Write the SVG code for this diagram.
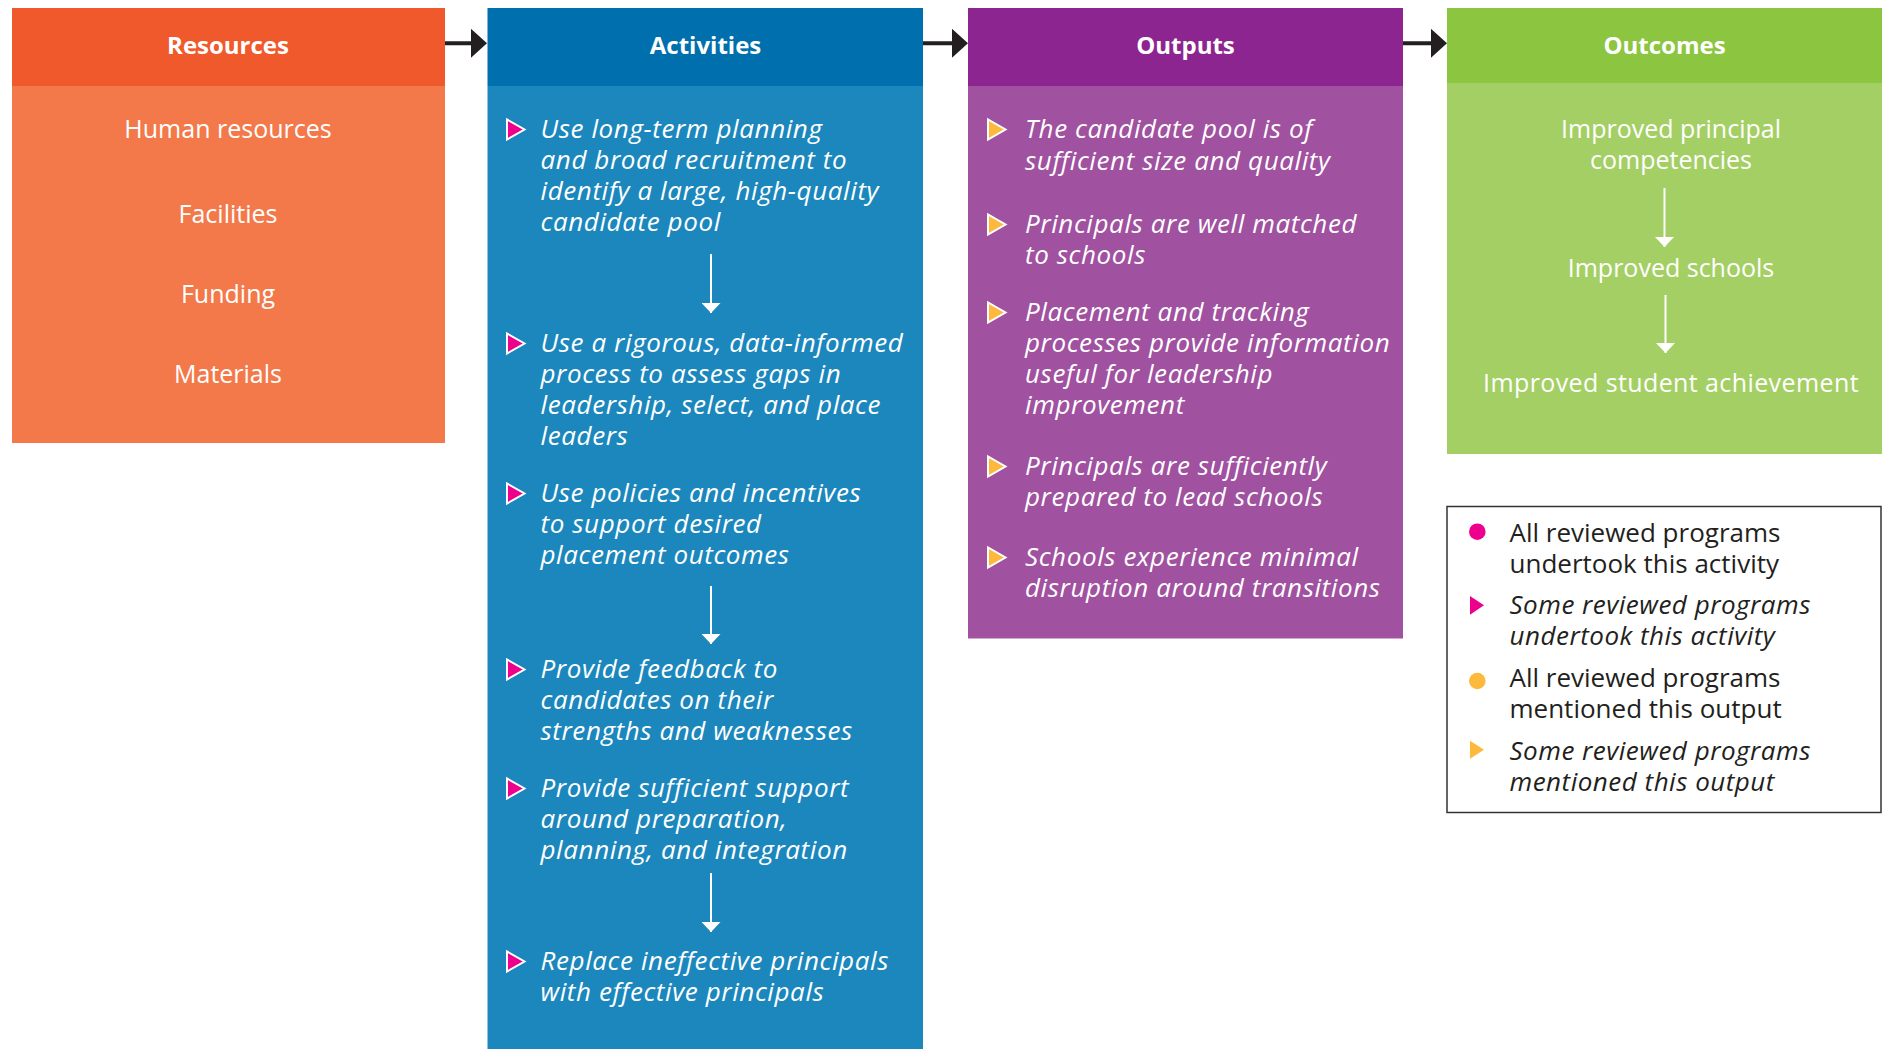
<svg xmlns="http://www.w3.org/2000/svg" xmlns:xlink="http://www.w3.org/1999/xlink" width="1887" height="1049" viewBox="0 0 1887 1049">
<style>
  .hd { font-family: "Open Sans", "Noto Sans", "Liberation Sans", sans-serif; font-weight: bold; font-size: 24px; fill: #ffffff; text-anchor: middle; }
  .bd { font-family: "Open Sans", "Noto Sans", "Liberation Sans", sans-serif; font-size: 25px; fill: #ffffff; text-anchor: middle; }
  .it { font-family: "Open Sans", "Noto Sans", "Liberation Sans", sans-serif; font-style: italic; font-size: 26px; fill: #ffffff; letter-spacing: 0.6px; }
  .lg { font-family: "Open Sans", "Noto Sans", "Liberation Sans", sans-serif; font-size: 26px; fill: #231f20; }
  .lgi { font-style: italic; letter-spacing: 0.5px; }
  .pk { fill: #ec008c; stroke: #ffffff; stroke-width: 2; stroke-linejoin: miter; }
  .or { fill: #fdb93c; stroke: #ffffff; stroke-width: 2; stroke-linejoin: miter; }
  .blk { stroke: #231f20; stroke-width: 4; fill: none; }
  .wht { stroke: #ffffff; stroke-width: 2; fill: none; }
</style>
<defs>
  <path id="tri" d="M0,-18.5 L0,1.5 L17.5,-8.5 Z"/>
  <marker id="mb" viewBox="0 0 16 29" refX="9" refY="14.5" markerWidth="16" markerHeight="29" markerUnits="userSpaceOnUse" orient="auto">
    <path d="M0,0 L16,14.5 L0,29 Z" fill="#231f20"/>
  </marker>
  <marker id="mw" viewBox="0 0 10 19" refX="10" refY="9.5" markerWidth="10" markerHeight="19" markerUnits="userSpaceOnUse" orient="auto">
    <path d="M0,0 L10,9.5 L0,19 Z" fill="#ffffff"/>
  </marker>
</defs>
<rect width="1887" height="1049" fill="#ffffff"/>

<g id="resources">
  <rect x="12" y="8" width="433" height="78" fill="#f0592b"/>
  <rect x="12" y="86" width="433" height="357" fill="#f3794a"/>
  <text class="hd" x="228" y="54">Resources</text>
  <text class="bd" x="228" y="138">Human resources</text>
  <text class="bd" x="228" y="223">Facilities</text>
  <text class="bd" x="228" y="303">Funding</text>
  <text class="bd" x="228" y="383">Materials</text>
</g>

<g id="activities">
  <rect x="487.5" y="8" width="435.5" height="78" fill="#006fad"/>
  <rect x="487.5" y="86" width="435.5" height="963" fill="#1b87bd"/>
  <text class="hd" x="705.5" y="54">Activities</text>
  <use xlink:href="#tri" class="pk" x="507" y="138"/>
  <text class="it" x="540.5" y="138">Use long-term planning</text>
  <text class="it" x="540.5" y="169">and broad recruitment to</text>
  <text class="it" x="540.5" y="200">identify a large, high-quality</text>
  <text class="it" x="540.5" y="231">candidate pool</text>
  <use xlink:href="#tri" class="pk" x="507" y="352"/>
  <text class="it" x="540.5" y="352">Use a rigorous, data-informed</text>
  <text class="it" x="540.5" y="383">process to assess gaps in</text>
  <text class="it" x="540.5" y="414">leadership, select, and place</text>
  <text class="it" x="540.5" y="445">leaders</text>
  <use xlink:href="#tri" class="pk" x="507" y="502"/>
  <text class="it" x="540.5" y="502">Use policies and incentives</text>
  <text class="it" x="540.5" y="533">to support desired</text>
  <text class="it" x="540.5" y="564">placement outcomes</text>
  <use xlink:href="#tri" class="pk" x="507" y="678"/>
  <text class="it" x="540.5" y="678">Provide feedback to</text>
  <text class="it" x="540.5" y="709">candidates on their</text>
  <text class="it" x="540.5" y="740">strengths and weaknesses</text>
  <use xlink:href="#tri" class="pk" x="507" y="797"/>
  <text class="it" x="540.5" y="797">Provide sufficient support</text>
  <text class="it" x="540.5" y="828">around preparation,</text>
  <text class="it" x="540.5" y="859">planning, and integration</text>
  <use xlink:href="#tri" class="pk" x="507" y="970"/>
  <text class="it" x="540.5" y="970">Replace ineffective principals</text>
  <text class="it" x="540.5" y="1001">with effective principals</text>
</g>

<g id="outputs">
  <rect x="968" y="8" width="435" height="78" fill="#8d2590"/>
  <rect x="968" y="86" width="435" height="552.5" fill="#a0519f"/>
  <text class="hd" x="1185.5" y="54">Outputs</text>
  <use xlink:href="#tri" class="or" x="988" y="138"/>
  <text class="it" x="1025" y="138">The candidate pool is of</text>
  <text class="it" x="1025" y="170">sufficient size and quality</text>
  <use xlink:href="#tri" class="or" x="988" y="233"/>
  <text class="it" x="1025" y="233">Principals are well matched</text>
  <text class="it" x="1025" y="264">to schools</text>
  <use xlink:href="#tri" class="or" x="988" y="321"/>
  <text class="it" x="1025" y="321">Placement and tracking</text>
  <text class="it" x="1025" y="352">processes provide information</text>
  <text class="it" x="1025" y="383">useful for leadership</text>
  <text class="it" x="1025" y="414">improvement</text>
  <use xlink:href="#tri" class="or" x="988" y="475"/>
  <text class="it" x="1025" y="475">Principals are sufficiently</text>
  <text class="it" x="1025" y="506">prepared to lead schools</text>
  <use xlink:href="#tri" class="or" x="988" y="566"/>
  <text class="it" x="1025" y="566">Schools experience minimal</text>
  <text class="it" x="1025" y="597">disruption around transitions</text>
</g>

<g id="outcomes">
  <rect x="1447" y="8" width="435" height="75" fill="#8cc540"/>
  <rect x="1447" y="83" width="435" height="371" fill="#a4cf64"/>
  <text class="hd" x="1664.5" y="54">Outcomes</text>
  <text class="bd" x="1671" y="138">Improved principal</text>
  <text class="bd" x="1671" y="169">competencies</text>
  <text class="bd" x="1671" y="277">Improved schools</text>
  <text class="bd" x="1671" y="392" letter-spacing="0.4">Improved student achievement</text>
</g>

<g id="legend">
  <rect x="1447" y="506.5" width="434" height="306" fill="none" stroke="#333333" stroke-width="1.5"/>
  <circle cx="1477.3" cy="531.7" r="8.3" fill="#ec008c"/>
  <text class="lg" x="1509.5" y="541.7">All reviewed programs</text>
  <text class="lg" x="1509.5" y="572.7">undertook this activity</text>
  <polygon points="1470,596 1470,614.7 1484,605.3" fill="#ec008c"/>
  <text class="lg lgi" x="1509.5" y="614.3">Some reviewed programs</text>
  <text class="lg lgi" x="1509.5" y="645">undertook this activity</text>
  <circle cx="1477.3" cy="681" r="8.3" fill="#fdb93c"/>
  <text class="lg" x="1509.5" y="687.3">All reviewed programs</text>
  <text class="lg" x="1509.5" y="718.3">mentioned this output</text>
  <polygon points="1470,740.7 1470,758.7 1484,749.7" fill="#fdb93c"/>
  <text class="lg lgi" x="1509.5" y="760">Some reviewed programs</text>
  <text class="lg lgi" x="1509.5" y="791">mentioned this output</text>
</g>

<g id="connectors">
  <line class="blk" x1="445" y1="43.3" x2="480" y2="43.3" marker-end="url(#mb)"/>
  <line class="blk" x1="923" y1="43.3" x2="961" y2="43.3" marker-end="url(#mb)"/>
  <line class="blk" x1="1403" y1="43.3" x2="1440" y2="43.3" marker-end="url(#mb)"/>
  <line class="wht" x1="711" y1="254" x2="711" y2="313" marker-end="url(#mw)"/>
  <line class="wht" x1="711" y1="586" x2="711" y2="644" marker-end="url(#mw)"/>
  <line class="wht" x1="711" y1="873" x2="711" y2="932" marker-end="url(#mw)"/>
  <line class="wht" x1="1664.5" y1="188" x2="1664.5" y2="247" marker-end="url(#mw)"/>
  <line class="wht" x1="1665.5" y1="295" x2="1665.5" y2="353" marker-end="url(#mw)"/>
</g>
</svg>
